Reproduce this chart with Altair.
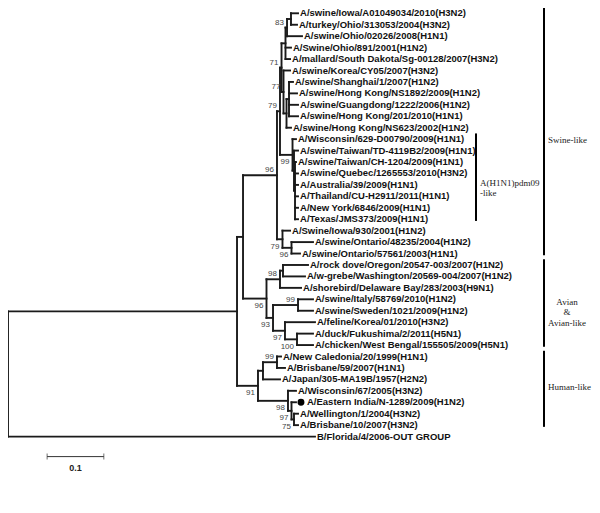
import altair as alt
import pandas as pd

# ---------------- data ----------------
leaf_names = [
    "A/swine/Iowa/A01049034/2010(H3N2)",
    "A/turkey/Ohio/313053/2004(H3N2)",
    "A/swine/Ohio/02026/2008(H1N1)",
    "A/Swine/Ohio/891/2001(H1N2)",
    "A/mallard/South Dakota/Sg-00128/2007(H3N2)",
    "A/swine/Korea/CY05/2007(H3N2)",
    "A/swine/Shanghai/1/2007(H1N2)",
    "A/swine/Hong Kong/NS1892/2009(H1N2)",
    "A/swine/Guangdong/1222/2006(H1N2)",
    "A/swine/Hong Kong/201/2010(H1N1)",
    "A/swine/Hong Kong/NS623/2002(H1N2)",
    "A/Wisconsin/629-D00790/2009(H1N1)",
    "A/swine/Taiwan/TD-4119B2/2009(H1N1)",
    "A/swine/Taiwan/CH-1204/2009(H1N1)",
    "A/swine/Quebec/1265553/2010(H3N2)",
    "A/Australia/39/2009(H1N1)",
    "A/Thailand/CU-H2911/2011(H1N1)",
    "A/New York/6846/2009(H1N1)",
    "A/Texas/JMS373/2009(H1N1)",
    "A/Swine/Iowa/930/2001(H1N2)",
    "A/swine/Ontario/48235/2004(H1N2)",
    "A/swine/Ontario/57561/2003(H1N1)",
    "A/rock dove/Oregon/20547-003/2007(H1N2)",
    "A/w-grebe/Washington/20569-004/2007(H1N2)",
    "A/shorebird/Delaware Bay/283/2003(H9N1)",
    "A/swine/Italy/58769/2010(H1N2)",
    "A/swine/Sweden/1021/2009(H1N2)",
    "A/feline/Korea/01/2010(H3N2)",
    "A/duck/Fukushima/2/2011(H5N1)",
    "A/chicken/West Bengal/155505/2009(H5N1)",
    "A/New Caledonia/20/1999(H1N1)",
    "A/Brisbane/59/2007(H1N1)",
    "A/Japan/305-MA19B/1957(H2N2)",
    "A/Wisconsin/67/2005(H3N2)",
    "A/Eastern India/N-1289/2009(H1N2)",
    "A/Wellington/1/2004(H3N2)",
    "A/Brisbane/10/2007(H3N2)",
    "B/Florida/4/2006-OUT GROUP",
]

# distance from root to each tip (substitutions per site)
leaf_tips = [
    0.5115, 0.5097, 0.5185, 0.4991, 0.4974, 0.4974, 0.5026, 0.5097, 0.5115, 0.5115,
    0.4991, 0.5079, 0.5115, 0.5079, 0.5115, 0.5115, 0.5115, 0.5115, 0.5115, 0.4974,
    0.5379, 0.5150, 0.5291, 0.5238, 0.5168, 0.5379, 0.5379, 0.5414, 0.5379, 0.5379,
    0.4815, 0.4885, 0.4797, 0.5079, 0.5079, 0.5115, 0.5115, 0.5414,
]

marked_leaf = "A/Eastern India/N-1289/2009(H1N2)"

# internal nodes: name, depth from root, children (node name or leaf index)
node_names = ["ROOT", "IN", "SA", "S", "U", "V", "W", "N123", "N12", "Y",
              "As", "X", "P", "P2", "P4", "Lsw", "O", "AV", "R2", "R1",
              "Q", "I", "F", "DC", "HU", "H1", "NB", "H3", "A", "B"]
node_depths = [0.0, 0.4039, 0.4145, 0.4744, 0.4797, 0.4824, 0.4894, 0.4921, 0.4991, 0.4859,
               0.4912, 0.4956, 0.5018, 0.5044, 0.5062, 0.4841, 0.5000, 0.4559, 0.4797, 0.4850,
               0.4674, 0.5115, 0.4885, 0.5097, 0.4409, 0.4497, 0.4744, 0.4938, 0.5000, 0.5044]
node_children = [
    ["IN", 37], ["SA", "HU"], ["S", "AV"], ["U", "Lsw"], ["V", "P"],
    ["W", "Y"], ["N123", 3, 4], ["N12", 2], [0, 1], [5, "As"],
    ["X", 10], [6, 7, 8, 9], [11, "P2"], [12, "P4"], [13, 14, 15, 16, 17, 18],
    [19, "O"], [20, 21], ["R2", "Q"], ["R1", 24], [22, 23],
    ["I", "F"], [25, 26], [27, "DC"], [28, 29], ["H1", "H3"],
    ["NB", 32], [30, 31], [33, "A"], [34, "B"], [35, 36],
]

# bootstrap support values
boot_nodes = ["N123", "V", "Y", "U", "P", "S", "Lsw", "O", "R2", "AV",
              "I", "Q", "F", "DC", "NB", "HU", "H3", "A", "B"]
boot_values = ["83", "71", "77", "79", "99", "96", "79", "96", "98", "96",
               "99", "93", "97", "100", "99", "91", "98", "97", "75"]
boot_side = ["above", "above", "above", "above", "below", "above", "below", "below", "above", "below",
             "above", "below", "below", "below", "above", "below", "below", "below", "below"]

# clade brackets on the right
clade_labels = ["Swine-like", "A(H1N1)pdm09\n-like", "Avian\n&\nAvian-like", "Human-like"]
clade_first = [0, 11, 22, 30]
clade_last = [21, 18, 29, 36]
clade_text_row = [11.1, 14.8, 25.2, 32.7]
clade_pos = [0.9453, 0.8254, 0.9453, 0.9453]
clade_align = ["left", "left", "center", "left"]

scale_start = 0.069
scale_length = 0.1
scale_label = "0.1"

# ---------------- build tree geometry ----------------
depth = dict(zip(node_names, node_depths))
kids = dict(zip(node_names, node_children))
ypos = {}


def node_y(c):
    if isinstance(c, int):
        return float(c)
    if c in ypos:
        return ypos[c]
    ch = kids[c]
    v = (node_y(ch[0]) + node_y(ch[-1])) / 2.0
    ypos[c] = v
    return v


def node_x(c):
    return leaf_tips[c] if isinstance(c, int) else depth[c]


segs = []
for n in node_names:
    ch = kids[n]
    x0 = depth[n]
    segs.append({"x": x0, "x2": x0, "y": node_y(ch[0]), "y2": node_y(ch[-1])})
    for c in ch:
        cy = node_y(c)
        segs.append({"x": x0, "x2": node_x(c), "y": cy, "y2": cy})
seg_df = pd.DataFrame(segs)

leaf_df = pd.DataFrame({"name": leaf_names, "tip": leaf_tips,
                        "row": list(range(len(leaf_names)))})
leaf_df["marked"] = leaf_df["name"] == marked_leaf

boot_df = pd.DataFrame({"node": boot_nodes, "value": boot_values, "side": boot_side})
boot_df["x"] = [depth[n] for n in boot_nodes]
boot_df["y"] = [node_y(n) for n in boot_nodes]

clade_df = pd.DataFrame({"label": clade_labels, "first": clade_first, "last": clade_last,
                         "x": clade_pos, "align": clade_align, "ym": clade_text_row})
clade_df["y"] = clade_df["first"] - 0.5
clade_df["y2"] = clade_df["last"] + 0.15

n_rows = len(leaf_names)
bar_row = n_rows + 0.75
scale_df = pd.DataFrame({"x": [scale_start], "x2": [scale_start + scale_length],
                         "y": [bar_row], "label": [scale_label]})

# ---------------- scales ----------------
W, H = 584, 497
ROW = 11.44
PX = 567.0
ymin = -5.3 / ROW
xs = alt.Scale(domain=[0, W / PX], nice=False, zero=False)
ys = alt.Scale(domain=[ymin, ymin + H / ROW], nice=False, zero=False, reverse=True)

X = lambda f: alt.X(f, type="quantitative", scale=xs, axis=None)
Y = lambda f: alt.Y(f, type="quantitative", scale=ys, axis=None)

LINE = "#1a1a1a"
SANS = "Liberation Sans"
SERIF = "Liberation Serif"

tree = alt.Chart(seg_df).mark_rule(color=LINE, strokeWidth=1.9, strokeCap="square").encode(
    x=X("x"), x2="x2", y=Y("y"), y2="y2")

leaf_text = alt.Chart(leaf_df).transform_filter("!datum.marked").mark_text(
    align="left", baseline="middle", dx=2, font=SANS, fontWeight="bold", fontSize=9.5, color="#111"
).encode(x=X("tip"), y=Y("row"), text="name")

marked_text = alt.Chart(leaf_df).transform_filter("datum.marked").mark_text(
    align="left", baseline="middle", dx=11, font=SANS, fontWeight="bold", fontSize=9.5, color="#111"
).encode(x=X("tip"), y=Y("row"), text="name")

dot = alt.Chart(leaf_df).transform_filter("datum.marked").mark_circle(
    color="black", opacity=1, size=48, xOffset=5
).encode(x=X("tip"), y=Y("row"))

boot_above = alt.Chart(boot_df).transform_filter("datum.side == 'above'").mark_text(
    align="right", baseline="middle", dx=-3, dy=-5, font=SANS, fontSize=8, color="#444"
).encode(x=X("x"), y=Y("y"), text="value")

boot_below = alt.Chart(boot_df).transform_filter("datum.side == 'below'").mark_text(
    align="right", baseline="middle", dx=-3, dy=7.5, font=SANS, fontSize=8, color="#444"
).encode(x=X("x"), y=Y("y"), text="value")

clade_bars = alt.Chart(clade_df).mark_rule(color="black", strokeWidth=2).encode(
    x=X("x"), y=Y("y"), y2="y2")

clade_text_left = alt.Chart(clade_df).transform_filter("datum.align == 'left'").mark_text(
    align="left", baseline="middle", dx=4, font=SERIF, fontSize=9, color="#222",
    lineBreak="\n", lineHeight=10
).encode(x=X("x"), y=Y("ym"), text="label")

clade_text_center = alt.Chart(clade_df).transform_filter("datum.align == 'center'").mark_text(
    align="center", baseline="middle", dx=23, font=SERIF, fontSize=9, color="#222",
    lineBreak="\n", lineHeight=10.5
).encode(x=X("x"), y=Y("ym"), text="label")

scale_bar = alt.Chart(scale_df).mark_rule(color="#333", strokeWidth=1).encode(
    x=X("x"), x2="x2", y=Y("y"))
scale_cap_l = alt.Chart(scale_df).mark_tick(color="#333", orient="vertical", size=6, thickness=1).encode(
    x=X("x"), y=Y("y"))
scale_cap_r = alt.Chart(scale_df).mark_tick(color="#333", orient="vertical", size=6, thickness=1).encode(
    x=X("x2"), y=Y("y"))
scale_text = alt.Chart(scale_df).transform_calculate(mid="(datum.x + datum.x2) / 2").mark_text(
    align="center", baseline="middle", dy=11, font=SANS, fontWeight="bold", fontSize=9, color="#222"
).encode(x=X("mid"), y=Y("y"), text="label")

chart = alt.layer(
    tree, leaf_text, marked_text, dot, boot_above, boot_below,
    clade_bars, clade_text_left, clade_text_center,
    scale_bar, scale_cap_l, scale_cap_r, scale_text,
).properties(
    width=W, height=H, padding=0,
    autosize=alt.AutoSizeParams(type="none"),
    background="white",
).configure_view(strokeWidth=0)

chart.save("out.html", embed_options={"renderer": "svg", "actions": False})
